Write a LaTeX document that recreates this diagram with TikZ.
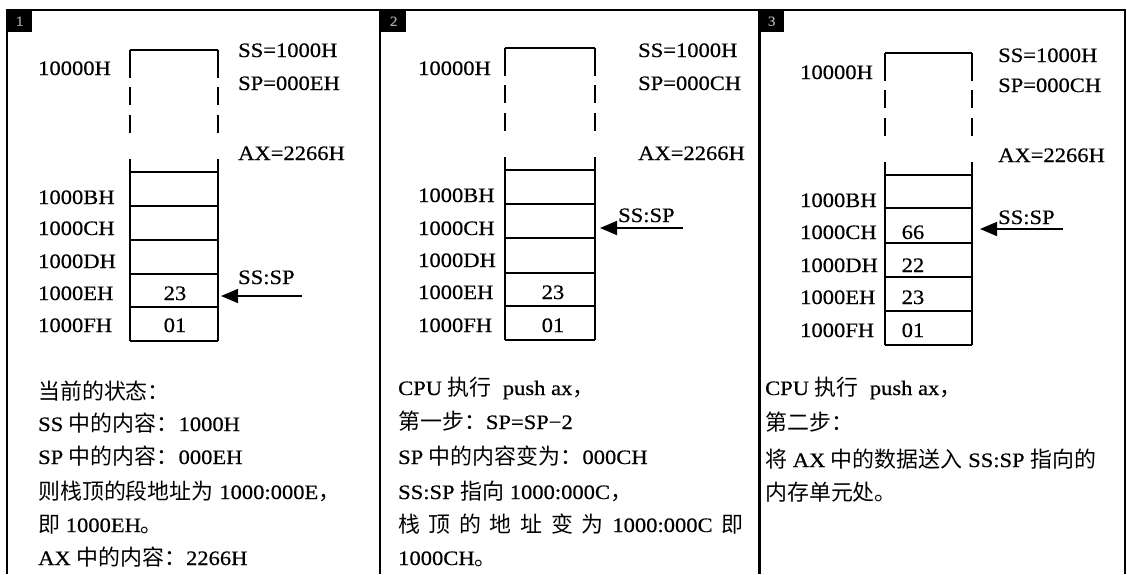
\documentclass[tikz,border=0pt]{standalone}
\usepackage{fontspec}
\setmainfont{Liberation Serif}[FakeStretch=1.1,FakeBold=0.5]
\newfontfamily\cjk{Noto Sans CJK SC}[Scale=1.07]
\usetikzlibrary{arrows.meta}
\newcommand\zh[1]{{\cjk #1}}
\newcommand\memstack[9]{%
  \draw[cellline] (#1,#3) -- (#2,#3);
  \foreach \xx in {#1,#2} {
    \draw[cellline] (\xx,#3) -- (\xx,#3+28);
    \draw[cellline] (\xx,#3+37) -- (\xx,#3+55);
    \draw[cellline] (\xx,#3+65) -- (\xx,#3+83);
    \draw[cellline] (\xx,#3+109) -- (\xx,#9);
  }
  \foreach \yy in {#4,#5,#6,#7,#8,#9} \draw[cellline] (#1,\yy) -- (#2,\yy);
}
\begin{document}
\begin{tikzpicture}[x=1pt,y=-1pt,
  txt/.style={anchor=base west,inner sep=0pt,font=\fontsize{20.5}{24}\selectfont},
  val/.style={anchor=base,inner sep=0pt,font=\fontsize{20.5}{24}\selectfont},
  frame/.style={line width=2pt},
  cellline/.style={line width=1.8pt},
  ptr/.style={line width=1.6pt,-{Triangle[length=17pt,width=14pt]}},
  badge/.style={fill=black,minimum width=25pt,minimum height=22pt,inner sep=0pt,anchor=north west,text=gray!70,font=\fontsize{14}{14}\selectfont}]
\useasboundingbox (0,0) rectangle (1127,574);
\fill[white] (0,0) rectangle (1127,574);

% frame
\draw[frame] (7,574) -- (7,10) -- (1125,10) -- (1125,574);
\draw[frame] (380,10) -- (380,574);
\draw[line width=3pt] (759,10) -- (759,574);
\node[badge] (b1) at (7,10) {1};
\node[badge] (b2) at (381,10) {2};
\node[badge] (b3) at (759,10) {3};

% ---------- panel 1 ----------
\memstack{130}{218}{50}{172}{206}{240}{274}{307}{341}
\node[txt] (p1a0) at (38,75) {10000H};
\node[txt] (p1aB) at (38,204) {1000BH};
\node[txt] (p1aC) at (38,235) {1000CH};
\node[txt] (p1aD) at (38,268) {1000DH};
\node[txt] (p1aE) at (38,300) {1000EH};
\node[txt] (p1aF) at (38,332) {1000FH};
\node[val] (p1vE) at (175,300) {23};
\node[val] (p1vF) at (175,332) {01};
\node[txt] (p1ss) at (238,57) {SS=1000H};
\node[txt] (p1sp) at (238,90) {SP=000EH};
\node[txt] (p1ax) at (238,160) {AX=2266H};
\node[txt] (p1ptr) at (238,284) {SS:SP};
\coordinate (p1from) at (302,296);
\coordinate (p1to) at (221,296);
\draw[ptr] (p1from) -- (p1to);
\node[txt] (p1t1) at (38,399) {\zh{当前的状态：}};
\node[txt] (p1t2) at (38,431) {SS \zh{中的内容：}1000H};
\node[txt] (p1t3) at (38,464) {SP \zh{中的内容：}000EH};
\node[txt] (p1t4) at (38,499) {\zh{则栈顶的段地址为} 1000:000E\zh{，}};
\node[txt] (p1t5) at (38,532) {\zh{即} 1000EH\zh{。}};
\node[txt] (p1t6) at (38,565) {AX \zh{中的内容：}2266H};

% ---------- panel 2 ----------
\memstack{505}{595}{48}{170}{204}{238}{273}{306}{340}
\node[txt] (p2a0) at (418,75) {10000H};
\node[txt] (p2aB) at (418,202) {1000BH};
\node[txt] (p2aC) at (418,235) {1000CH};
\node[txt] (p2aD) at (418,267) {1000DH};
\node[txt] (p2aE) at (418,299) {1000EH};
\node[txt] (p2aF) at (418,332) {1000FH};
\node[val] (p2vE) at (553,299) {23};
\node[val] (p2vF) at (553,332) {01};
\node[txt] (p2ss) at (638,57) {SS=1000H};
\node[txt] (p2sp) at (638,90) {SP=000CH};
\node[txt] (p2ax) at (638,160) {AX=2266H};
\node[txt] (p2ptr) at (618,222) {SS:SP};
\coordinate (p2from) at (683,228);
\coordinate (p2to) at (600,228);
\draw[ptr] (p2from) -- (p2to);
\node[txt] (p2t1) at (398,395) {CPU \zh{执行}\ \ push ax\zh{，}};
\node[txt] (p2t2) at (398,429) {\zh{第一步：}SP=SP−2};
\node[txt] (p2t3) at (398,464) {SP \zh{中的内容变为：}000CH};
\node[txt] (p2t4) at (398,499) {SS:SP \zh{指向} 1000:000C\zh{，}};
\node[txt] (p2t5) at (398,532) {\makebox[345pt][s]{\zh{栈} \zh{顶} \zh{的} \zh{地} \zh{址} \zh{变} \zh{为} 1000:000C \zh{即}}};
\node[txt] (p2t6) at (398,565) {1000CH\zh{。}};

% ---------- panel 3 ----------
\memstack{885}{972}{53}{175}{208}{243}{277}{311}{345}
\node[txt] (p3a0) at (800,79) {10000H};
\node[txt] (p3aB) at (800,207) {1000BH};
\node[txt] (p3aC) at (800,239) {1000CH};
\node[txt] (p3aD) at (800,272) {1000DH};
\node[txt] (p3aE) at (800,304) {1000EH};
\node[txt] (p3aF) at (800,337) {1000FH};
\node[val] (p3vC) at (913,239) {66};
\node[val] (p3vD) at (913,272) {22};
\node[val] (p3vE) at (913,304) {23};
\node[val] (p3vF) at (913,337) {01};
\node[txt] (p3ss) at (998,62) {SS=1000H};
\node[txt] (p3sp) at (998,92) {SP=000CH};
\node[txt] (p3ax) at (998,162) {AX=2266H};
\node[txt] (p3ptr) at (998,224) {SS:SP};
\coordinate (p3from) at (1063,229);
\coordinate (p3to) at (980,229);
\draw[ptr] (p3from) -- (p3to);
\node[txt] (p3t1) at (765,395) {CPU \zh{执行}\ \ push ax\zh{，}};
\node[txt] (p3t2) at (765,430) {\zh{第二步：}};
\node[txt] (p3t3) at (765,467) {\zh{将} AX \zh{中的数据送入} SS:SP \zh{指向的}};
\node[txt] (p3t4) at (765,500) {\zh{内存单元处。}};
\end{tikzpicture}
\end{document}
